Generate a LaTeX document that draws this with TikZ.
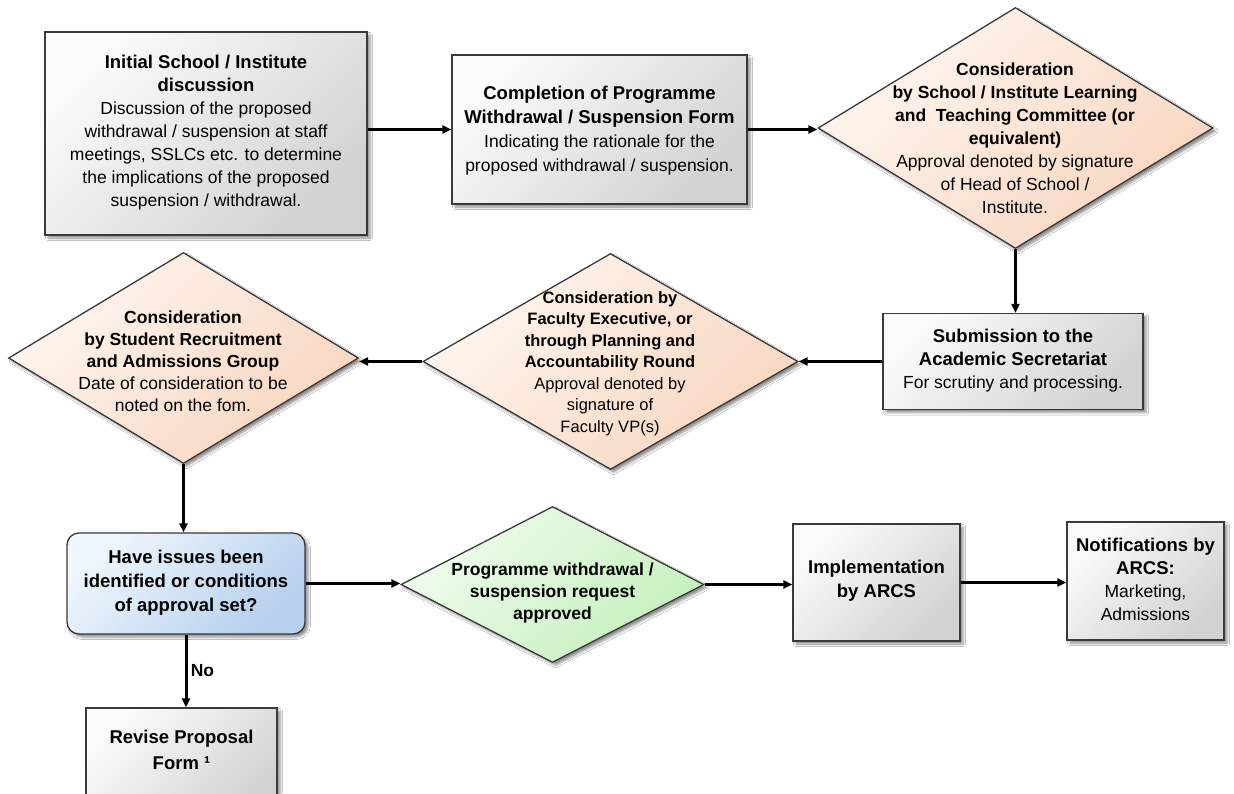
\documentclass[tikz,border=0pt]{standalone}
\usepackage{fontspec}
\setmainfont{Liberation Sans}
\usetikzlibrary{shapes.geometric,shadows.blur,arrows.meta,calc}
\definecolor{bord}{HTML}{3A3A3A}
\definecolor{grayA}{HTML}{FBFBFB}
\definecolor{grayB}{HTML}{D2D2D2}
\definecolor{peachA}{HTML}{FFF6F0}
\definecolor{peachB}{HTML}{F8D6BF}
\definecolor{greenA}{HTML}{F0FCEE}
\definecolor{greenB}{HTML}{C4F0BC}
\definecolor{blueA}{HTML}{EFF6FD}
\definecolor{blueB}{HTML}{B6D0EE}
\newcommand{\hdr}[1]{{\fontsize{18.5}{23}\selectfont\bfseries #1}}
\newcommand{\bdr}[1]{{\bfseries #1}}
\tikzset{
  base/.style={draw=bord, line width=1.3pt, inner sep=0pt,
    blur shadow={shadow xshift=3pt, shadow yshift=-3pt, shadow blur radius=2.5pt, shadow opacity=45}},
  graybox/.style={base, rectangle, top color=grayA, bottom color=grayB, shading angle=45},
  bluebox/.style={base, rectangle, rounded corners=12pt, top color=blueA, bottom color=blueB, shading angle=45},
  peachdia/.style={base, diamond, top color=peachA, bottom color=peachB, shading angle=45},
  greendia/.style={base, diamond, top color=greenA, bottom color=greenB, shading angle=45},
  txt/.style={align=center, inner sep=0pt, font=\fontsize{17.5}{23}\selectfont},
  arr/.style={line width=3pt, black, -{Triangle[length=9pt,width=8pt]}}
}
\begin{document}
\begin{tikzpicture}[x=1pt,y=-1pt]
\clip (0,0) rectangle (1234,793);
\fill[white] (0,0) rectangle (1234,793);

% nodes
\node[graybox, minimum width=322pt, minimum height=203pt] (A) at (206,133.5) {};
\node[txt] (At) at (206,132.5) {\hdr{Initial School / Institute}\\\hdr{discussion}\\Discussion of the proposed\\withdrawal / suspension at staff\\meetings, SSLCs etc. to determine\\the implications of the proposed\\suspension / withdrawal.};

\node[graybox, minimum width=295pt, minimum height=149pt] (B) at (599.5,129.5) {};
\node[txt, font=\fontsize{17.5}{24}\selectfont] (Bt) at (599.5,131) {\hdr{Completion of Programme}\\\hdr{Withdrawal / Suspension Form}\\Indicating the rationale for the\\proposed withdrawal / suspension.};

\node[peachdia, minimum width=395pt, minimum height=241pt] (C) at (1015.5,128) {};
\node[txt] (Ct) at (1015,138) {\bdr{Consideration}\\\bdr{by School / Institute Learning}\\\bdr{and\ \ Teaching Committee (or}\\\bdr{equivalent)}\\Approval denoted by signature\\of Head of School /\\Institute.};

\node[graybox, minimum width=260pt, minimum height=96pt] (D) at (1013,361.5) {};
\node[txt] (Dt) at (1013,360.5) {\hdr{Submission to the}\\\hdr{Academic Secretariat}\\For scrutiny and processing.};

\node[peachdia, minimum width=375pt, minimum height=216pt] (E) at (610.5,361.5) {};
\node[txt, font=\fontsize{16.5}{21.5}\selectfont] (Et) at (610,363.5) {\bdr{Consideration by}\\\bdr{Faculty Executive, or}\\\bdr{through Planning and}\\\bdr{Accountability Round}\\Approval denoted by\\signature of\\Faculty VP(s)};

\node[peachdia, minimum width=350pt, minimum height=211pt] (F) at (183.5,358) {};
\node[txt, font=\fontsize{17.5}{22}\selectfont] (Ft) at (183,361.5) {\bdr{Consideration}\\\bdr{by Student Recruitment}\\\bdr{and Admissions Group}\\Date of consideration to be\\noted on the fom.};

\node[bluebox, minimum width=238pt, minimum height=101pt] (G) at (186,583.5) {};
\node[txt, font=\fontsize{18.5}{24}\selectfont\bfseries] (Gt) at (186,583) {Have issues been\\identified or conditions\\of approval set?};

\node[graybox, minimum width=191pt, minimum height=112pt] (I) at (181.5,764) {};
\node[txt, font=\fontsize{18.5}{26}\selectfont\bfseries] (It) at (181.5,750) {Revise Proposal\\Form ¹};

\node[greendia, minimum width=303pt, minimum height=156pt] (H) at (552.5,584.5) {};
\node[txt, font=\fontsize{17.5}{22}\selectfont\bfseries] (Ht) at (552.5,592.5) {Programme withdrawal /\\suspension request\\approved};

\node[graybox, minimum width=167pt, minimum height=117pt] (J) at (876.5,582.5) {};
\node[txt, font=\fontsize{18.5}{24}\selectfont\bfseries] (Jt) at (876.5,581) {Implementation\\by ARCS};

\node[graybox, minimum width=157pt, minimum height=118pt] (K) at (1145.5,581) {};
\node[txt, font=\fontsize{17.5}{23}\selectfont] (Kt) at (1145.5,579.5) {\hdr{Notifications by}\\\hdr{ARCS:}\\Marketing,\\Admissions};

% connectors
\draw[arr] (A.east |- B.west) -- (B.west);
\draw[arr] (B.east) -- (B.east -| C.west);
\draw[arr] (C.south) -- (C.south |- D.north);
\draw[arr] (D.west) -- (D.west -| E.east);
\draw[arr] (E.west) -- (E.west -| F.east);
\draw[arr] (F.south) -- (F.south |- G.north);
\draw[arr] (G.east) -- (G.east -| H.west);
\draw[arr] (G.south) -- (G.south |- I.north) node[midway, right, font=\fontsize{17.5}{20}\selectfont\bfseries] (no) {No};
\draw[arr] (H.east) -- (H.east -| J.west);
\draw[arr] (J.east) -- (J.east -| K.west);
\end{tikzpicture}
\end{document}
